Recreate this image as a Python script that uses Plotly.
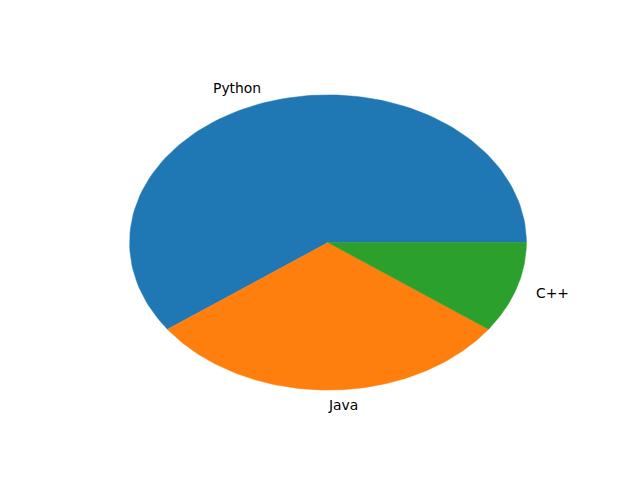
import numpy as np
import plotly.graph_objects as go

# pie data
languages = ['Python', 'Java', 'C++']
shares = [60, 30, 10]
colors = ['#1f77b4', '#ff7f0e', '#2ca02c']

fig = go.Figure()

total = sum(shares)
start = 0.0
for name, val, col in zip(languages, shares, colors):
    end = start + 2 * np.pi * val / total
    t = np.linspace(start, end, 120)
    xs = np.concatenate([[0], np.cos(t), [0]])
    ys = np.concatenate([[0], np.sin(t), [0]])
    fig.add_trace(go.Scatter(
        x=xs, y=ys, mode='lines', fill='toself',
        fillcolor=col, line=dict(color=col, width=0.5),
        name=name, hoverinfo='name', showlegend=False
    ))
    mid = (start + end) / 2
    lx, ly = 1.1 * np.cos(mid), 1.1 * np.sin(mid)
    fig.add_annotation(
        x=lx, y=ly, text=name, showarrow=False,
        xanchor='right' if lx < -0.01 else 'left', yanchor='middle',
        borderpad=0, borderwidth=0,
        font=dict(family='DejaVu Sans', size=13.9, color='black')
    )
    start = end

# margins offset by the page's 8px body margin
fig.update_layout(
    width=640, height=480,
    margin=dict(l=72, r=72, t=50, b=61),
    plot_bgcolor='white', paper_bgcolor='white',
    xaxis=dict(range=[-1.25, 1.25], visible=False),
    yaxis=dict(range=[-1.25, 1.25], visible=False),
)

fig.write_html("out.html")
